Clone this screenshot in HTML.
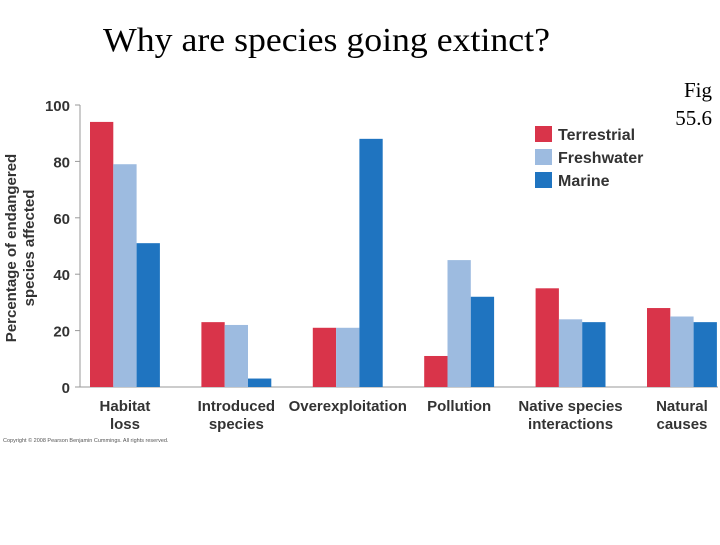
<!DOCTYPE html>
<html><head><meta charset="utf-8"><style>
body{margin:0;background:#fff;width:720px;height:540px;overflow:hidden}
svg text{font-family:"Liberation Sans",Arial,sans-serif}
</style></head><body>
<svg width="720" height="540">
<text x="103" y="51" style="font-family:'Liberation Serif',serif" font-size="34" textLength="447" lengthAdjust="spacingAndGlyphs" fill="#000">Why are species going extinct?</text>
<text x="712" y="97" text-anchor="end" style="font-family:'Liberation Serif',serif" font-size="21">Fig</text>
<text x="712" y="125" text-anchor="end" style="font-family:'Liberation Serif',serif" font-size="21">55.6</text>
<g id="axes"></g>
<g id="bars"></g>
<g id="legend"></g>
<text x="3" y="442" font-size="5.5" fill="#555">Copyright © 2008 Pearson Benjamin Cummings. All rights reserved.</text>
</svg>
<script>
const categories=[["Habitat","loss"],["Introduced","species"],["Overexploitation",""],["Pollution",""],["Native species","interactions"],["Natural","causes"]];
const series=["Terrestrial","Freshwater","Marine"];
const terrestrial=[94,23,21,11,35,28];
const freshwater=[79,22,21,45,24,25];
const marine=[51,3,88,32,23,23];
const ticks=[0,20,40,60,80,100];
const colors=["#d9344a","#9dbbe0","#1f74c0"];
const NS="http://www.w3.org/2000/svg";
const y0=387,y100=105,x0=80,g0=90,gStep=111.4,bw=23.3;
const yS=v=>y0-(v/100)*(y0-y100);
const xS=(i,s)=>g0+i*gStep+s*bw;
function mk(t,a,p){const e=document.createElementNS(NS,t);for(const k in a)e.setAttribute(k,a[k]);p.appendChild(e);return e;}
const axes=document.getElementById('axes'),bars=document.getElementById('bars'),leg=document.getElementById('legend');
let l=mk('line',{x1:x0,x2:x0,y1:y100,y2:y0,stroke:'#999','stroke-width':1},axes);


l=mk('line',{x1:x0-5,x2:718,y1:y0,y2:y0,stroke:'#999','stroke-width':1},axes);


ticks.forEach(v=>{
 const tk=mk('line',{x1:x0-5,x2:x0,y1:yS(v),y2:yS(v),stroke:'#999'},axes);
 
 
 const t=mk('text',{x:70,y:yS(v)+6,'text-anchor':'end','font-size':15,'font-weight':'bold',fill:'#333'},axes);
 t.textContent=v;
 
 
});
const yt=mk('text',{transform:'translate(16,248) rotate(-90)','text-anchor':'middle','font-size':15,'font-weight':'bold',fill:'#333'},axes);
yt.textContent='Percentage of endangered';


const yt2=mk('text',{transform:'translate(34,248) rotate(-90)','text-anchor':'middle','font-size':15,'font-weight':'bold',fill:'#333'},axes);
yt2.textContent='species affected';


[terrestrial,freshwater,marine].forEach((arr,s)=>{
 arr.forEach((v,i)=>{
  const r=mk('rect',{x:xS(i,s),y:yS(v),width:bw,height:y0-yS(v),fill:colors[s]},bars);
  
  
 });
});
categories.forEach((c,i)=>{
 const cx=xS(i,1.5);
 c.forEach((ln,k)=>{ if(!ln)return;
  const t=mk('text',{x:cx,y:411+k*18,'text-anchor':'middle','font-size':15,'font-weight':'bold',fill:'#333'},axes);
  t.textContent=ln;
  
  
 });
});
series.forEach((s,k)=>{
 const r=mk('rect',{x:535,y:126+k*23,width:17,height:16,fill:colors[k]},leg);
 
 
 const t=mk('text',{x:558,y:140+k*23,'font-size':16,'font-weight':'bold',fill:'#333'},leg);
 t.textContent=s;
 
 
});
</script>
</body></html>
